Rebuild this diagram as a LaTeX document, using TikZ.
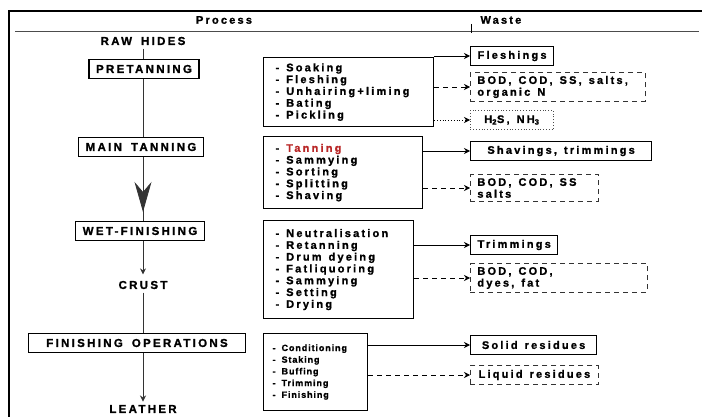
\documentclass[tikz,border=0pt]{standalone}
\usepackage{fontspec}
\setmainfont{Liberation Sans Bold}[LetterSpace=20, FakeBold=1.2]
\newfontfamily\finfont{Liberation Sans Bold}[LetterSpace=10, FakeBold=1]
\usetikzlibrary{
  arrows.meta,           % Stealth tips
  decorations.markings   % Big tip in the middle of a line
}
\definecolor{tanred}{RGB}{185,40,40}
\newcommand{\labelfont}{\fontsize{11}{11.8}\selectfont\spaceskip 7pt plus 1pt\relax}
\newcommand{\stagefont}{\fontsize{11.5}{12}\selectfont\spaceskip 9pt plus 1pt\relax}
\newcommand{\stepfont}{\finfont\fontsize{9}{11.7}\selectfont\spaceskip 6pt plus 1pt\relax}
\newcommand{\widespace}{\spaceskip 7pt plus 1pt\relax}
\newcommand{\smallspace}{\spaceskip 6pt plus 1pt\relax}

\tikzset{
  every node/.style={font=\labelfont},
  stage/.style={draw, line width=1.3pt, inner xsep=7pt, minimum height=19pt, font=\stagefont},
  steps/.style={draw, line width=1.2pt, anchor=north west, align=left, inner xsep=12pt,
                execute at begin node=\widespace},
  waste/.style={draw, line width=1.2pt, anchor=west, align=left, inner xsep=7pt, minimum height=19pt,
                execute at begin node=\widespace},
  wastedash/.style={waste, line width=0.8pt, draw=black!80, dash pattern=on 5pt off 4pt},
  wastedot/.style={waste, line width=0.8pt, draw=black!70, dotted},
  flow/.style={line width=0.8pt, black!80},
  tip/.style={-{Stealth[length=6pt, width=6pt]}},
  solidarrow/.style={line width=0.9pt, tip},
  dasharrow/.style={line width=0.8pt, dash pattern=on 5pt off 4pt, tip},
  dotarrow/.style={line width=0.8pt, dotted, tip},
  bigtip/.style={postaction=decorate, decoration={markings,
      mark=at position 0.86 with {\arrow{Stealth[length=30pt, width=17pt, inset=10pt]}}}}
}

\begin{document}
\begin{tikzpicture}[x=1pt, y=-1pt]
    \useasboundingbox (0,0) rectangle (702,417);

    % Frame and header
    \draw[line width=1.8pt] (9,417) -- (9,11) -- (702,11);
    \draw[line width=0.8pt, black!70] (15,31) -- (699,31);
    \node (process) at (224,20) {Process};
    \node[anchor=west] (waste) at (477,20) {Waste};
    \draw[line width=0.8pt] ([xshift=-6pt, yshift=-4pt]waste.west) -- ++(0,9);

    % Process stages
    \node[font=\stagefont] (raw) at (143,41) {RAW HIDES};
    \node[stage] (pre) at (144,69) {PRETANNING};
    \node[stage] (main) at (141,147) {MAIN TANNING};
    \node[stage] (wet) at (140,231) {WET-FINISHING};
    \node[font=\stagefont] (crust) at (143,285) {CRUST};
    \node[stage, minimum width=217pt] (fin) at (137,343) {FINISHING OPERATIONS};
    \node[font=\stagefont] (leather) at (143,409) {LEATHER};

    % Main flow line
    \draw[flow] (raw.south) -- (raw |- pre.north);
    \draw[flow] (pre.south -| raw) -- (main.north -| raw);
    \draw[flow, bigtip] (main.south -| raw) -- (wet.north -| raw);
    \draw[flow, tip, shorten >=3pt] (wet.south -| raw) -- (crust.north -| raw);
    \draw[flow] (crust.south -| raw) -- (fin.north -| raw);
    \draw[flow, tip] (fin.south -| raw) -- (leather.north -| raw);

    % Operations
    \node[steps, text width=146pt, minimum height=69pt] (pretasks) at (263,57)
      {-~Soaking\\-~Fleshing\\-~Unhairing+liming\\-~Bating\\-~Pickling};
    \node[steps, text width=135pt, minimum height=72pt] (maintasks) at (263,136)
      {-~\textcolor{tanred}{Tanning}\\-~Sammying\\-~Sorting\\-~Splitting\\-~Shaving};
    \node[steps, text width=126pt, minimum height=98pt] (wettasks) at (263,220)
      {-~Neutralisation\\-~Retanning\\-~Drum dyeing\\-~Fatliquoring\\-~Sammying\\-~Setting\\-~Drying};
    \node[steps, inner xsep=9pt, text width=86pt, minimum height=77pt, font=\stepfont,
          execute at begin node=\smallspace] (fintasks) at (263,333)
      {-~Conditioning\\-~Staking\\-~Buffing\\-~Trimming\\-~Finishing};

    % Waste
    \node[waste] (fleshings) at (470,56) {Fleshings};
    \node[wastedash, text width=161pt] (bod1) at (470,87) {BOD, COD, SS, salts,\\organic N};
    \node[wastedot, minimum width=83pt] (gases) at (470,120) {H\textsubscript{2}S, NH\textsubscript{3}};
    \node[waste, minimum width=181pt] (shavings) at (470,151) {Shavings, trimmings};
    \node[wastedash, text width=114pt] (bod2) at (470,188) {BOD, COD, SS\\salts};
    \node[waste] (trimmings) at (470,245) {Trimmings};
    \node[wastedash, text width=163pt] (bod3) at (470,278) {BOD, COD,\\dyes, fat};
    \node[waste, minimum width=126pt] (solid) at (470,345) {Solid residues};
    \node[wastedash, minimum width=128pt] (liquid) at (470,375) {Liquid residues};

    % Arrows to waste
    \draw[solidarrow] (pretasks.east |- fleshings) -- (fleshings);
    \draw[dasharrow] (pretasks.east |- bod1) -- (bod1);
    \draw[dotarrow] (pretasks.east |- gases) -- (gases);
    \draw[solidarrow] (maintasks.east |- shavings) -- (shavings);
    \draw[dasharrow] (maintasks.east |- bod2) -- (bod2);
    \draw[solidarrow] (wettasks.east |- trimmings) -- (trimmings);
    \draw[dasharrow] (wettasks.east |- bod3) -- (bod3);
    \draw[solidarrow] (fintasks.east |- solid) -- (solid);
    \draw[dasharrow] (fintasks.east |- liquid) -- (liquid);
\end{tikzpicture}
\end{document}
